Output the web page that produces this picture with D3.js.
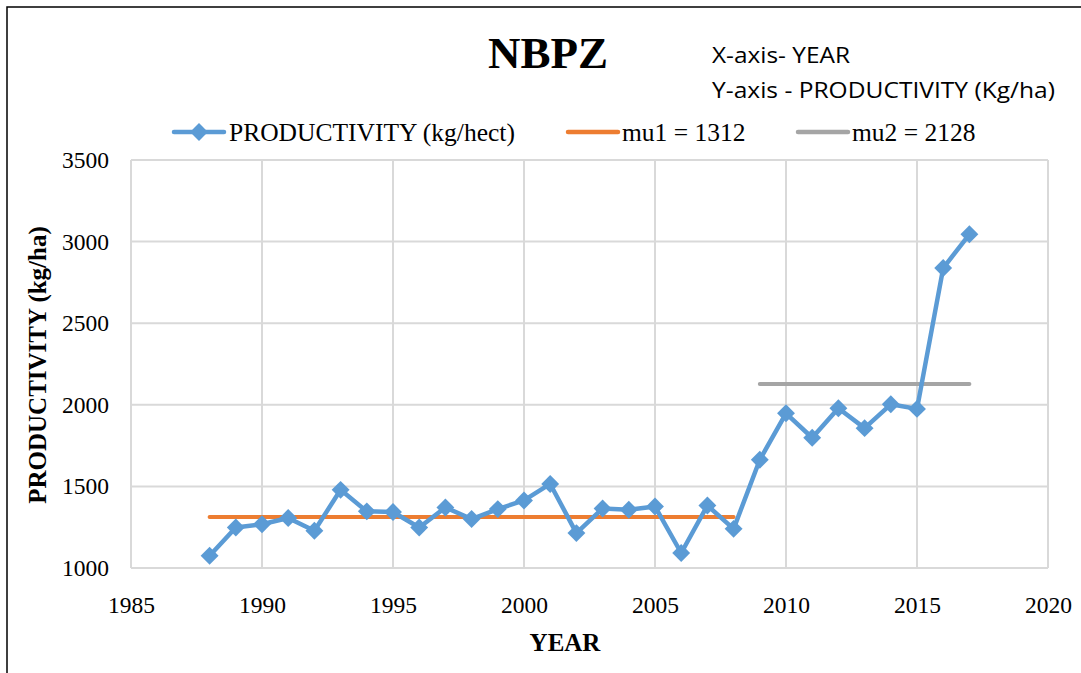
<!DOCTYPE html>
<html lang="en">
<head>
<meta charset="UTF-8">
<title>NBPZ</title>
<script src="https://d3js.org/d3.v7.min.js"></script>
<style>
    body { margin: 0; background: #fff; }
    svg { display: block; font-family: "Liberation Serif", "Times New Roman", serif; }
</style>
</head>
<body>
<div id="chart"></div>
<script>
var years = [1988, 1989, 1990, 1991, 1992, 1993, 1994, 1995, 1996, 1997,
             1998, 1999, 2000, 2001, 2002, 2003, 2004, 2005, 2006, 2007,
             2008, 2009, 2010, 2011, 2012, 2013, 2014, 2015, 2016, 2017];
var productivity = [1075, 1248, 1268, 1306, 1228, 1479, 1347, 1343, 1248, 1371,
                    1300, 1361, 1414, 1515, 1214, 1365, 1357, 1377, 1092, 1383,
                    1240, 1663, 1948, 1798, 1979, 1857, 2003, 1975, 2838, 3045];
var mu1 = 1312, mu1Years = [1988, 2008];
var mu2 = 2128, mu2Years = [2009, 2017];
var xTicks = [1985, 1990, 1995, 2000, 2005, 2010, 2015, 2020];
var yTicks = [1000, 1500, 2000, 2500, 3000, 3500];

var W = 1081, H = 673;
var margin = {left: 131, right: 33, top: 160, bottom: 105};

var svg = d3.select("#chart").append("svg")
    .attr("width", W)
    .attr("height", H);

// outer frame (only top/left visible in the reference)
svg.append("rect")
    .attr("x", 7).attr("y", 7)
    .attr("width", W + 20).attr("height", H + 20)
    .attr("fill", "none").attr("stroke", "#000").attr("stroke-width", 1.5);

var x = d3.scaleLinear().domain([1985, 2020]).range([margin.left, W - margin.right]);
var y = d3.scaleLinear().domain([1000, 3500]).range([H - margin.bottom, margin.top]);

// grid
svg.append("g")
    .selectAll("line.v").data(xTicks).enter().append("line")
    .attr("x1", d => x(d)).attr("x2", d => x(d))
    .attr("y1", y(1000)).attr("y2", y(3500))
    .attr("stroke", "#d9d9d9").attr("stroke-width", 2);
svg.append("g")
    .selectAll("line.h").data(yTicks).enter().append("line")
    .attr("x1", x(1985)).attr("x2", x(2020))
    .attr("y1", d => y(d)).attr("y2", d => y(d))
    .attr("stroke", "#d9d9d9").attr("stroke-width", 2);

// axes labels
var xAxis = d3.axisBottom(x).tickValues(xTicks).tickSize(0).tickPadding(28).tickFormat(d3.format("d"));
svg.append("g").attr("class", "x-axis")
    .attr("transform", `translate(0,${y(1000)})`)
    .call(xAxis)
    .call(g => g.select(".domain").remove())
    .selectAll("text").attr("font-size", 23.5).attr("font-family", "Liberation Serif").attr("fill", "#000");

var yAxis = d3.axisLeft(y).tickValues(yTicks).tickSize(0).tickPadding(22).tickFormat(d3.format("d"));
svg.append("g").attr("class", "y-axis")
    .attr("transform", `translate(${x(1985)},0)`)
    .call(yAxis)
    .call(g => g.select(".domain").remove())
    .selectAll("text").attr("font-size", 23.5).attr("font-family", "Liberation Serif").attr("fill", "#000");

// mean lines
svg.append("line")
    .attr("x1", x(mu1Years[0])).attr("x2", x(mu1Years[1]))
    .attr("y1", y(mu1)).attr("y2", y(mu1))
    .attr("stroke", "#ed7d31").attr("stroke-width", 4).attr("stroke-linecap", "round");
svg.append("line")
    .attr("x1", x(mu2Years[0])).attr("x2", x(mu2Years[1]))
    .attr("y1", y(mu2)).attr("y2", y(mu2))
    .attr("stroke", "#a5a5a5").attr("stroke-width", 4).attr("stroke-linecap", "round");

// productivity series
var blue = "#5b9bd5";
var line = d3.line().x((d, i) => x(years[i])).y(d => y(d));
svg.append("path")
    .datum(productivity)
    .attr("d", line)
    .attr("fill", "none")
    .attr("stroke", blue)
    .attr("stroke-width", 4.5)
    .attr("stroke-linejoin", "round");

var diamond = d3.symbol().type(d3.symbolSquare).size(160);
svg.append("g")
    .selectAll("path").data(productivity).enter().append("path")
    .attr("d", diamond)
    .attr("transform", (d, i) => `translate(${x(years[i])},${y(d)}) rotate(45)`)
    .attr("fill", blue);

// title block
svg.append("text")
    .attr("x", 548).attr("y", 68)
    .attr("text-anchor", "middle")
    .attr("font-size", 45).attr("font-weight", "bold")
    .text("NBPZ");

svg.append("text")
    .attr("x", 712).attr("y", 63)
    .attr("font-family", "Open Sans").attr("font-size", 21)
    .attr("textLength", 138).attr("lengthAdjust", "spacingAndGlyphs")
    .text("X-axis- YEAR");
svg.append("text")
    .attr("x", 712).attr("y", 98)
    .attr("font-family", "Open Sans").attr("font-size", 21)
    .attr("textLength", 343).attr("lengthAdjust", "spacingAndGlyphs")
    .text("Y-axis - PRODUCTIVITY (Kg/ha)");

// legend
var legendY = 132, legendFont = 25.5;
var legend = svg.append("g");
legend.append("line")
    .attr("x1", 174).attr("x2", 224).attr("y1", legendY).attr("y2", legendY)
    .attr("stroke", blue).attr("stroke-width", 4.5).attr("stroke-linecap", "round");
legend.append("path")
    .attr("d", diamond)
    .attr("transform", `translate(199,${legendY}) rotate(45)`)
    .attr("fill", blue);
legend.append("text")
    .attr("x", 229).attr("y", legendY + 9).attr("font-size", legendFont)
    .text("PRODUCTIVITY (kg/hect)");

legend.append("line")
    .attr("x1", 568).attr("x2", 618).attr("y1", legendY).attr("y2", legendY)
    .attr("stroke", "#ed7d31").attr("stroke-width", 4.5).attr("stroke-linecap", "round");
legend.append("text")
    .attr("x", 622).attr("y", legendY + 9).attr("font-size", legendFont)
    .text("mu1 = " + mu1);

legend.append("line")
    .attr("x1", 798).attr("x2", 848).attr("y1", legendY).attr("y2", legendY)
    .attr("stroke", "#a5a5a5").attr("stroke-width", 4.5).attr("stroke-linecap", "round");
legend.append("text")
    .attr("x", 852).attr("y", legendY + 9).attr("font-size", legendFont)
    .text("mu2 = " + mu2);

// axis titles
svg.append("text")
    .attr("x", 565).attr("y", 651)
    .attr("text-anchor", "middle")
    .attr("font-size", 25).attr("font-weight", "bold")
    .text("YEAR");
svg.append("text")
    .attr("transform", "translate(46,365) rotate(-90)")
    .attr("text-anchor", "middle")
    .attr("font-size", 25).attr("font-weight", "bold")
    .text("PRODUCTIVITY (kg/ha)");
</script>
</body>
</html>
